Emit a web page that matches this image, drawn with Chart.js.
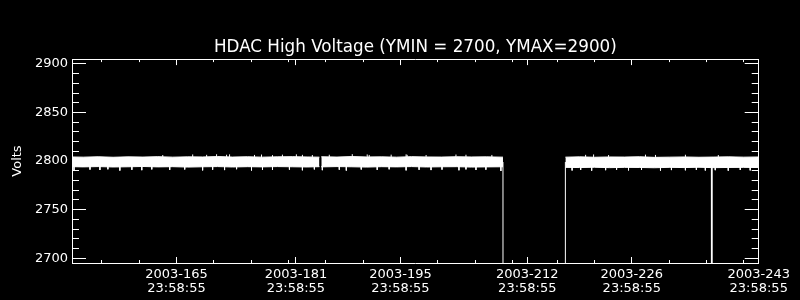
<!DOCTYPE html>
<html>
<head>
<meta charset="utf-8">
<title>HDAC High Voltage</title>
<script src="https://cdn.jsdelivr.net/npm/chart.js@4.4.1/dist/chart.umd.min.js"></script>
<style>
  html, body { margin: 0; padding: 0; background: #000; }
  canvas { display: block; }
</style>
</head>
<body>
<canvas id="hvchart" width="800" height="300"></canvas>
<script>
// axis ranges (day of year 2003, volts)
var dayMin = 151, dayMax = 243;
var voltMin = 2695, voltMax = 2905;

// x tick labels
var xTickDays  = [165, 181, 195, 212, 226, 243];
var xTickDates = ['2003-165', '2003-181', '2003-195', '2003-212', '2003-226', '2003-243'];
var xTickTimes = ['23:58:55', '23:58:55', '23:58:55', '23:58:55', '23:58:55', '23:58:55'];
var xMinorDays = [155, 160, 170, 175, 180, 185, 190, 200, 205, 210, 216, 221, 231, 236, 241];

// y ticks
var yTicks = [2700, 2750, 2800, 2850, 2900];
var yMinorTicks = [2710, 2720, 2730, 2740, 2760, 2770, 2780, 2790, 2810, 2820, 2830, 2840, 2860, 2870, 2880, 2890];

// envelope of the noisy voltage band (null = no data)
var envDays = [151.0, 152.5, 154.5, 156.5, 158.5, 160.5, 162.5, 164.5, 166.5, 168.5, 170.5, 172.5, 174.5, 176.5, 178.5, 180.5, 182.5, 184.15,
  184.25,
  184.4, 186.5, 188.5, 190.5, 192.5, 194.5, 196.5, 198.5, 200.5, 202.5, 204.5, 206.5, 208.74,
  213.0,
  217.1, 219.0, 221.0, 223.0, 225.0, 227.0, 229.0, 231.0, 233.0, 235.0, 237.0, 239.0, 241.0, 243.0];
var envHigh = [2804.2, 2804.0, 2804.4, 2803.9, 2804.3, 2804.1, 2804.5, 2804.0, 2804.3, 2804.2, 2804.6, 2804.1, 2804.4, 2804.0, 2804.3, 2804.5, 2804.2, 2804.0,
  null,
  2804.4, 2804.1, 2804.6, 2804.2, 2804.3, 2804.0, 2804.5, 2804.2, 2804.1, 2804.4, 2804.2, 2804.3, 2804.0,
  null,
  2804.0, 2804.3, 2803.9, 2804.2, 2804.1, 2804.4, 2803.8, 2804.0, 2804.2, 2803.9, 2804.1, 2804.3, 2804.0, 2804.2];
var envLow = [2794.2, 2794.0, 2794.3, 2793.9, 2794.1, 2794.4, 2794.0, 2794.2, 2793.8, 2794.1, 2794.3, 2793.9, 2794.2, 2794.0, 2794.3, 2794.1, 2793.9, 2794.2,
  null,
  2794.0, 2794.3, 2794.1, 2793.8, 2794.2, 2794.0, 2794.3, 2793.9, 2794.1, 2794.2, 2793.8, 2794.0, 2794.1,
  null,
  2793.5, 2793.3, 2793.6, 2793.2, 2793.5, 2793.4, 2793.1, 2793.5, 2793.3, 2793.6, 2793.2, 2793.4, 2793.5, 2793.3];

// single low readings below the band
var downDays = [151.27, 153.41, 154.74, 155.81, 157.41, 159.02, 160.35, 161.69, 164.09, 166.10, 168.50, 169.84, 171.44, 173.05, 175.05, 176.52, 177.86, 180.13, 181.87, 183.47,
  184.54, 186.81, 187.75, 189.75, 191.89, 193.49, 195.76, 197.50, 199.10, 200.57, 202.84, 203.78, 205.12, 206.45, 208.46,
  218.00, 219.15, 220.62, 222.49, 223.96, 225.56, 227.30, 229.84, 231.31, 233.18, 234.65, 235.85, 237.18, 238.92, 240.53, 241.86];
var downVolts = [2790.5, 2791.2, 2790.8, 2791.5, 2790.2, 2791.0, 2790.6, 2791.4, 2790.9, 2791.3, 2790.4, 2791.1, 2790.7, 2791.6, 2790.3, 2791.0, 2790.8, 2791.2, 2790.5, 2791.4,
  2790.6, 2791.1, 2790.2, 2791.3, 2790.9, 2791.5, 2790.4, 2791.0, 2790.7, 2791.2, 2790.5, 2791.4, 2790.8, 2791.1, 2789.8,
  2790.3, 2790.9, 2790.1, 2790.6, 2791.0, 2790.4, 2790.8, 2790.2, 2790.7, 2790.5, 2790.9, 2790.3, 2790.6, 2790.1, 2790.8, 2790.4];

// single high readings above the band
var upDays = [163.16, 167.17, 169.04, 170.37, 171.71, 172.11, 175.45, 176.39, 177.86, 179.19, 181.06, 181.87, 183.20,
  185.47, 188.55, 190.55, 190.82, 193.76, 195.76, 195.90, 198.44, 202.44, 203.78, 207.25,
  219.81, 220.88, 222.89, 227.83, 229.17, 233.18, 237.59];
var upVolts = [2806.2, 2806.8, 2806.4, 2807.0, 2806.5, 2806.9, 2806.3, 2806.7, 2806.1, 2806.6, 2806.9, 2806.4, 2806.2,
  2806.5, 2807.1, 2806.8, 2806.3, 2806.6, 2806.9, 2806.4, 2806.2, 2806.7, 2806.5, 2806.3,
  2806.4, 2806.8, 2806.2, 2806.6, 2806.3, 2806.5, 2806.2];

// HV switched off (drops off the bottom of the plot)
var offDays  = [208.74, 208.77, 217.08, 217.10, 220.0, 236.66, 236.67, 236.74, 236.75];
var offVolts = [2799, 0, 0, 2799, null, 2799, 0, 0, 2799];

var title = 'HDAC High Voltage (YMIN = 2700, YMAX=2900)';
var yTitle = 'Volts';

function pts(xs, ys) {
  return xs.map(function (x, i) { return {x: x, y: ys[i]}; });
}
function spikes(xs, ys, base) {
  var out = [];
  xs.forEach(function (x, i) {
    out.push({x: x, y: base}, {x: x, y: ys[i]}, {x: x, y: null});
  });
  return out;
}

Chart.defaults.font.family = "'DejaVu Sans', sans-serif";
Chart.defaults.color = '#fff';

function tickAxis(pos, vals, len, size, extra) {
  var horiz = (pos === 'top' || pos === 'bottom');
  var ax = {
    type: 'linear',
    position: pos,
    min: horiz ? dayMin : voltMin,
    max: horiz ? dayMax : voltMax,
    afterBuildTicks: function (s) { s.ticks = vals.map(function (v) { return {value: v}; }); },
    afterFit: function (s) { if (horiz) s.height = size; else s.width = size; },
    grid: { drawOnChartArea: false, drawTicks: true, tickLength: -len, color: '#fff', tickColor: '#fff', tickWidth: 1 },
    border: { display: false },
    ticks: { display: false }
  };
  for (var k in extra) ax[k] = extra[k];
  return ax;
}

var line = { borderColor: '#fff', backgroundColor: '#fff', borderWidth: 1, pointRadius: 0, tension: 0, spanGaps: false };

new Chart(document.getElementById('hvchart').getContext('2d'), {
  type: 'line',
  data: {
    datasets: [
      Object.assign({ label: 'high', data: pts(envDays, envHigh), fill: '+1' }, line),
      Object.assign({ label: 'low', data: pts(envDays, envLow), fill: false }, line),
      Object.assign({ label: 'low readings', data: spikes(downDays, downVolts, 2795), fill: false }, line),
      Object.assign({ label: 'high readings', data: spikes(upDays, upVolts, 2803), fill: false }, line),
      Object.assign({ label: 'HV off', data: pts(offDays, offVolts), fill: false }, line)
    ]
  },
  options: {
    responsive: false,
    animation: false,
    devicePixelRatio: 1,
    layout: { padding: 0 },
    plugins: {
      legend: { display: false },
      tooltip: { enabled: false },
      title: {
        display: true, text: title, color: '#fff', fullSize: false,
        font: { size: 16.75, weight: 'normal' },
        padding: { top: 37.5, bottom: 1.5 }
      }
    },
    scales: {
      x: tickAxis('bottom', xTickDays, 6, 37, {
        weight: 1,
        border: { display: true, color: '#fff', width: 1 },
        ticks: {
          display: true, color: '#fff', autoSkip: false, maxRotation: 0, padding: 10,
          font: { size: 13, lineHeight: 1.13 },
          callback: function (v) {
            var i = xTickDays.indexOf(v);
            return i < 0 ? '' : [xTickDates[i], xTickTimes[i]];
          }
        }
      }),
      xMinor: tickAxis('bottom', xMinorDays, 3, 0, { weight: 0 }),
      xTop: tickAxis('top', xTickDays, 6, 0, { weight: 1, border: { display: true, color: '#fff', width: 1 } }),
      xTopMinor: tickAxis('top', xMinorDays, 3, 0, { weight: 0 }),
      y: tickAxis('left', yTicks, 14, 72, {
        weight: 1,
        border: { display: true, color: '#fff', width: 1 },
        ticks: {
          display: true, color: '#fff', padding: 18, font: { size: 13 },
          callback: function (v) { return String(v); }
        },
        title: { display: true, text: yTitle, color: '#fff', font: { size: 13 }, padding: { top: 10, bottom: 0 } }
      }),
      yMinor: tickAxis('left', yMinorTicks, 7, 0, { weight: 0 }),
      yRight: tickAxis('right', yTicks, 14, 40, { weight: 1, border: { display: true, color: '#fff', width: 1 } }),
      yRightMinor: tickAxis('right', yMinorTicks, 7, 0, { weight: 0 })
    }
  }
});
</script>
</body>
</html>
